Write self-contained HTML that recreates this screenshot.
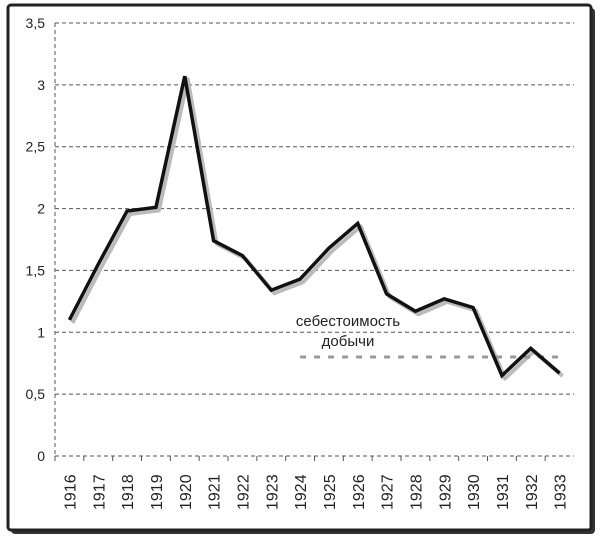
<!DOCTYPE html>
<html><head><meta charset="utf-8"><style>
body{margin:0;background:#fff;width:600px;height:539px;overflow:hidden}
svg{font-family:"Liberation Sans",sans-serif}
</style></head><body>
<svg width="600" height="539">
<rect x="11" y="8" width="584" height="526" rx="4" fill="#333"/>
<rect x="8" y="5" width="583" height="525" rx="3" fill="#fff" stroke="#222" stroke-width="3"/>
<g id="grid"></g><g id="axes"></g><g id="marks"></g>
</svg>
<script>
const categories=['1916','1917','1918','1919','1920','1921','1922','1923','1924','1925','1926','1927','1928','1929','1930','1931','1932','1933'];
const values=[1.10,1.55,1.98,2.01,3.07,1.74,1.62,1.34,1.43,1.68,1.88,1.31,1.17,1.27,1.20,0.65,0.87,0.67];
const costCategories=['1924','1925','1926','1927','1928','1929','1930','1931','1932','1933'];
const costValues=[0.8,0.8,0.8,0.8,0.8,0.8,0.8,0.8,0.8,0.8];
const yTicks=[0,0.5,1,1.5,2,2.5,3,3.5];
const yTickLabels=['0','0,5','1','1,5','2','2,5','3','3,5'];
const NS='http://www.w3.org/2000/svg';
const L=55,R=574,T=23,B=456,ymax=3.5;
const bw=(R-L)/categories.length;
const x=c=>L+bw*(categories.indexOf(c)+0.5);
const y=v=>B-(v/ymax)*(B-T);
function mk(p,t,a){const e=document.createElementNS(NS,t);for(const k in a)e.setAttribute(k,a[k]);p.appendChild(e);return e;}
const grid=document.getElementById('grid'),axes=document.getElementById('axes'),marks=document.getElementById('marks');
yTicks.forEach((v,i)=>{
 const g=mk(grid,'line',{x1:L,x2:R,y1:y(v),y2:y(v),stroke:'#555','stroke-dasharray':'4,3','stroke-width':1});
 
 
 const t=mk(axes,'text',{x:L-10,y:y(v)+5,'text-anchor':'end','font-size':14,fill:'#222'});
 t.textContent=yTickLabels[i];
 
 
});
const ya=mk(axes,'line',{x1:L,x2:L,y1:T,y2:B,stroke:'#555','stroke-dasharray':'4,3'});


categories.forEach((c,i)=>{
 const tx=L+bw*i;
 const tk=mk(axes,'line',{x1:tx,x2:tx,y1:B,y2:B+5,stroke:'#555'});
 
 
 const t=mk(axes,'text',{transform:`translate(${x(c)+6},510) rotate(-90)`,'font-size':16,fill:'#222'});
 t.textContent=c;
 
 
});
const pts=categories.map((c,i)=>x(c)+','+y(values[i])).join(' ');
const sh=mk(marks,'polyline',{points:categories.map((c,i)=>(x(c)+3)+','+(y(values[i])+3)).join(' '),fill:'none',stroke:'#bbb','stroke-width':4,'stroke-linejoin':'round'});


const cp=costCategories.map((c,i)=>x(c)+','+y(costValues[i])).join(' ');
const cl=mk(marks,'polyline',{points:cp,fill:'none',stroke:'#999','stroke-width':3,'stroke-dasharray':'6,8'});


const ln=mk(marks,'polyline',{points:pts,fill:'none',stroke:'#111','stroke-width':3.5,'stroke-linejoin':'miter'});


const l1=mk(marks,'text',{x:348,y:326,'text-anchor':'middle','font-size':15,fill:'#222'});
l1.textContent='себестоимость';


const l2=mk(marks,'text',{x:348,y:346,'text-anchor':'middle','font-size':15,fill:'#222'});
l2.textContent='добычи';


</script>
</body></html>
